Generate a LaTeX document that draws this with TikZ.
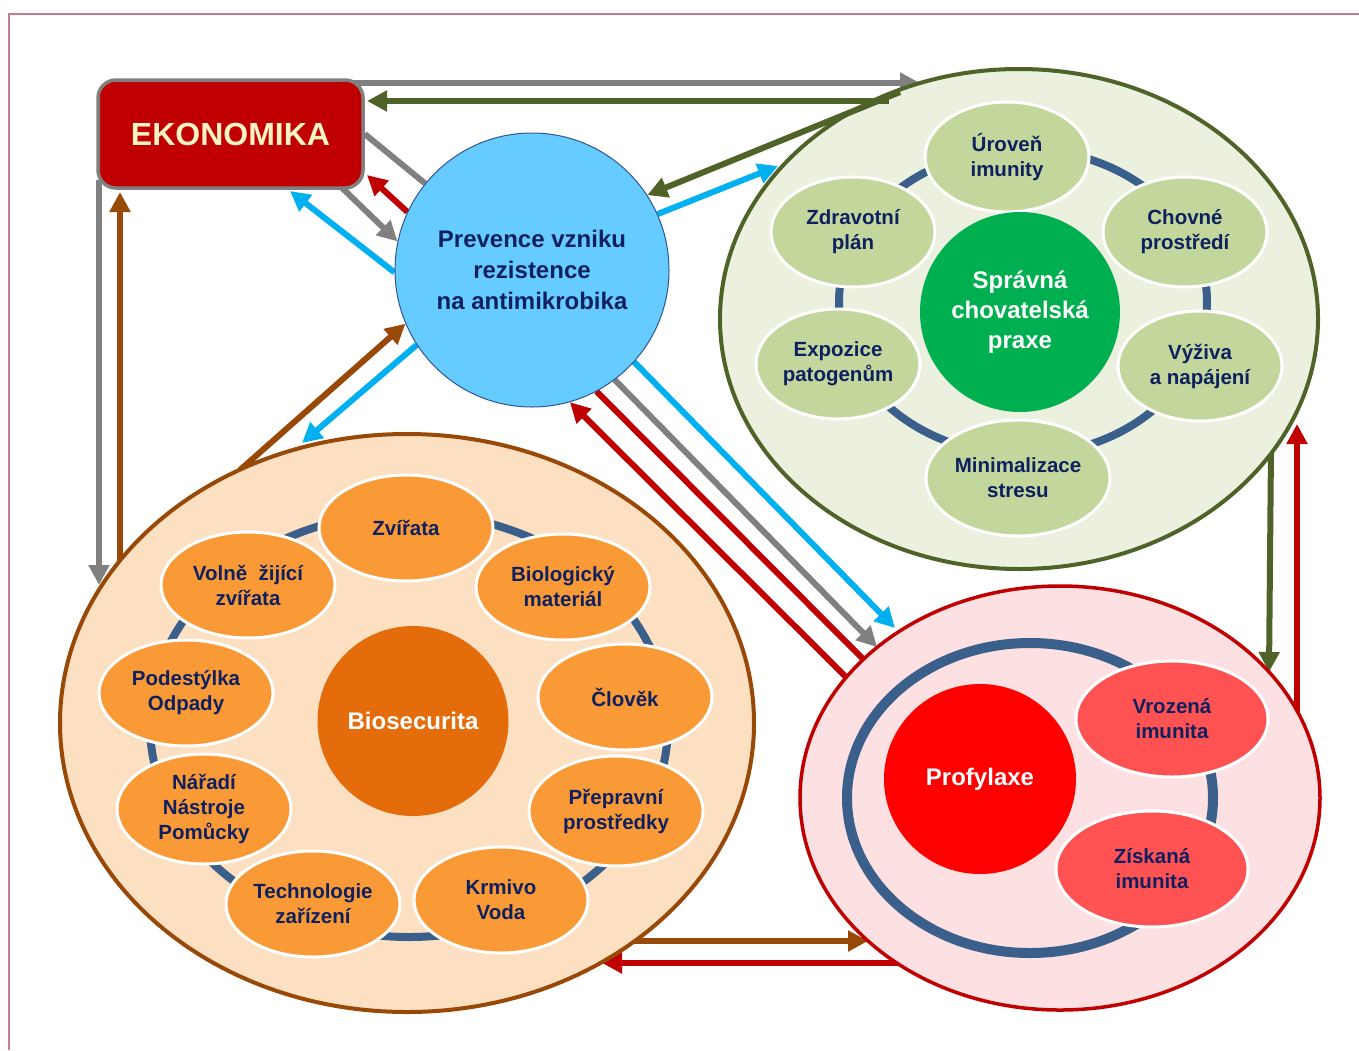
\documentclass[tikz,border=0pt]{standalone}
\usepackage{fontspec}
\setmainfont{Liberation Sans}
\usetikzlibrary{shapes.geometric,arrows.meta,backgrounds}
\definecolor{frameC}{HTML}{C8799A}
\definecolor{ekoFill}{HTML}{C00000}
\definecolor{ekoText}{HTML}{FFF3C4}
\definecolor{grayA}{HTML}{808080}
\definecolor{oliveA}{HTML}{4F6228}
\definecolor{redA}{HTML}{C00000}
\definecolor{blueA}{HTML}{00B0F0}
\definecolor{brownA}{HTML}{984807}
\definecolor{navyT}{HTML}{0F2060}
\definecolor{ringC}{HTML}{3A5F8B}
\definecolor{prevFill}{HTML}{66CCFF}
\definecolor{prevLine}{HTML}{2F5597}
\definecolor{greenBg}{HTML}{EBF1DE}
\definecolor{greenItem}{HTML}{C3D69B}
\definecolor{greenCore}{HTML}{00B050}
\definecolor{bioBg}{HTML}{FDDFC2}
\definecolor{bioItem}{HTML}{F99A36}
\definecolor{bioCore}{HTML}{E46C0A}
\definecolor{proBg}{HTML}{FDE0E1}
\definecolor{proCore}{HTML}{FF0000}
\definecolor{proItem}{HTML}{FF5252}
\begin{document}
\begin{tikzpicture}[x=1pt,y=-1pt,
  arr/.style={line width=6pt,-{Triangle[length=20pt,width=20pt]}},
  plainline/.style={line width=6pt},
  ring/.style={draw=ringC},
  itemtext/.style={text=navyT,font=\bfseries\fontsize{20.5}{25}\selectfont,align=center},
  gitem/.style={ellipse,fill=greenItem,draw=white,line width=3pt,minimum width=164pt,minimum height=110pt,inner sep=0pt,itemtext},
  bitem/.style={ellipse,fill=bioItem,draw=white,line width=3pt,minimum width=174pt,minimum height=106pt,inner sep=0pt,itemtext},
  pitem/.style={ellipse,fill=proItem,draw=white,line width=3pt,minimum width=192pt,minimum height=116pt,inner sep=0pt,itemtext},
  corenode/.style={ellipse,inner sep=0pt,text=white,font=\bfseries\fontsize{24}{30}\selectfont,align=center}
]
\useasboundingbox (0,0) rectangle (1359,1050);
\begin{pgfonlayer}{background}
  \fill[white] (0,0) rectangle (1359,1050);
  \draw[frameC,line width=1.2pt] (9,1050) -- (9,14) -- (1359,14);
\end{pgfonlayer}

% ---------- big groups ----------
\node[ellipse,fill=greenBg,draw=oliveA,line width=4pt,minimum width=598pt,minimum height=500pt,inner sep=0pt] (gcp) at (1019,319) {};
\draw[ring,line width=8pt] (1023,302) ellipse [x radius=184,y radius=153];
\node[gitem] (uroven) at (1007,157) {Úroveň\\imunity};
\node[gitem] (zdrav) at (853,232) {Zdravotní\\plán};
\node[gitem] (chovne) at (1185,232) {Chovné\\prostředí};
\node[gitem] (expo) at (838,364) {Expozice\\patogenům};
\node[gitem] (vyziva) at (1200,366) {Výživa\\a napájení};
\node[gitem,minimum width=184pt,minimum height=116pt] (minim) at (1018,478) {Minimalizace\\stresu};
\node[corenode,fill=greenCore,minimum width=200pt,minimum height=200pt] (praxe) at (1020,312) {Správná\\chovatelská\\praxe};

\node[ellipse,fill=bioBg,draw=brownA,line width=4pt,minimum width=694pt,minimum height=578pt,inner sep=0pt] (bio) at (407,723) {};
\draw[ring,line width=8pt] (409,725) ellipse [x radius=259,y radius=212];
\node[bitem] (zvirata) at (406,528) {Zvířata};
\node[bitem] (volne) at (248,585) {Volně\ \ žijící\\zvířata};
\node[bitem] (biol) at (563,587) {Biologický\\materiál};
\node[bitem] (podest) at (186,693) {Podestýlka\\Odpady};
\node[bitem] (clovek) at (625,697) {Člověk};
\node[bitem,minimum height=110pt] (naradi) at (204,809) {Nářadí\\Nástroje\\Pomůcky};
\node[bitem,minimum height=110pt] (prepr) at (616,811) {Přepravní\\prostředky};
\node[bitem] (techn) at (313,904) {Technologie\\zařízení};
\node[bitem] (krmivo) at (501,900) {Krmivo\\Voda};
\node[corenode,fill=bioCore,minimum width=191pt,minimum height=190pt] (biosec) at (413,721) {Biosecurita};

\node[ellipse,fill=proBg,draw=redA,line width=3.5pt,minimum width=520pt,minimum height=424pt,inner sep=0pt] (prof) at (1060,798) {};
\draw[ring,line width=10pt] (1030,798) ellipse [x radius=183,y radius=155];
\node[corenode,fill=proCore,minimum width=192pt,minimum height=190pt] (profyl) at (980,779) {Profylaxe};
\node[pitem] (vroz) at (1172,719) {Vrozená\\imunita};
\node[pitem] (ziskana) at (1152,869) {Získaná\\imunita};

\node[circle,fill=prevFill,draw=prevLine,line width=1pt,minimum size=274pt,inner sep=0pt,text=navyT,
  font=\bfseries\fontsize{24}{31}\selectfont,align=center] (prev) at (532,270)
  {Prevence vzniku\\rezistence\\na antimikrobika};

\node[rectangle,rounded corners=18pt,fill=ekoFill,draw=grayA,line width=3.5pt,minimum width=265pt,minimum height=108pt,
  text=ekoText,font=\bfseries\fontsize{32}{36}\selectfont] (eko) at (230.5,134) {EKONOMIKA};

% ---------- connector end points ----------
\coordinate (ekoTop) at (350,83);
\coordinate (gcpTopTip) at (920,83);
\coordinate (gcpOl1) at (889,101);
\coordinate (ekoRtip) at (367,101);
\coordinate (gcpOl2) at (900,92);
\coordinate (gcpBlue) at (778,166);
\coordinate (ekoBR) at (338,184);
\coordinate (ekoRedTip) at (367,175);
\coordinate (ekoBlueTip) at (290,191);
\coordinate (ekoLeft) at (99,180);
\coordinate (bioLeftTip) at (99,585);
\coordinate (bioLeft2) at (120,566);
\coordinate (ekoBrownTip) at (120,192);
\coordinate (bioTop) at (240,470);
\coordinate (bioTopTip) at (302,443);
\coordinate (profRed1) at (848,679);
\coordinate (profRed2) at (866,662);
\coordinate (profGrayTip) at (877,647);
\coordinate (profBlueTip) at (895,628);
\coordinate (gcpOlBot) at (1271,448);
\coordinate (profOlTip) at (1269,672);
\coordinate (profRedR) at (1297,716);
\coordinate (gcpRedTip) at (1297,424);
\coordinate (bioBot) at (630,941);
\coordinate (profBrownTip) at (868,941);
\coordinate (profBot) at (905,963);
\coordinate (bioBotTip) at (602,963);

% ---------- connectors ----------
\begin{pgfonlayer}{background}
  \draw[arr,grayA] (ekoTop) -- (gcpTopTip);
  \draw[arr,blueA] (prev.24) -- (gcpBlue);
  \draw[plainline,grayA] (eko.east) -- (prev.141);
  \draw[arr,grayA] (ekoBR) -- (prev.168);
  \draw[arr,redA] (prev.155) -- (ekoRedTip);
  \draw[arr,blueA] (prev.181) -- (ekoBlueTip);
  \draw[arr,grayA] (ekoLeft) -- (bioLeftTip);
  \draw[arr,brownA] (bioLeft2) -- (ekoBrownTip);
  \draw[arr,brownA] (bioTop) -- (prev.203);
  \draw[arr,blueA] (prev.213) -- (bioTopTip);
  \draw[arr,redA] (profRed1) -- (prev.286);
  \draw[plainline,redA] (prev.298) -- (profRed2);
  \draw[arr,grayA] (prev.307) -- (profGrayTip);
  \draw[arr,blueA] (prev.318) -- (profBlueTip);
  \draw[arr,oliveA] (gcpOlBot) -- (profOlTip);
  \draw[arr,redA] (profRedR) -- (gcpRedTip);
  \draw[arr,brownA] (bioBot) -- (profBrownTip);
  \draw[arr,redA] (profBot) -- (bioBotTip);
\end{pgfonlayer}
\draw[arr,oliveA] (gcpOl1) -- (ekoRtip);
\draw[arr,oliveA] (gcpOl2) -- (prev.33);
\end{tikzpicture}
\end{document}
